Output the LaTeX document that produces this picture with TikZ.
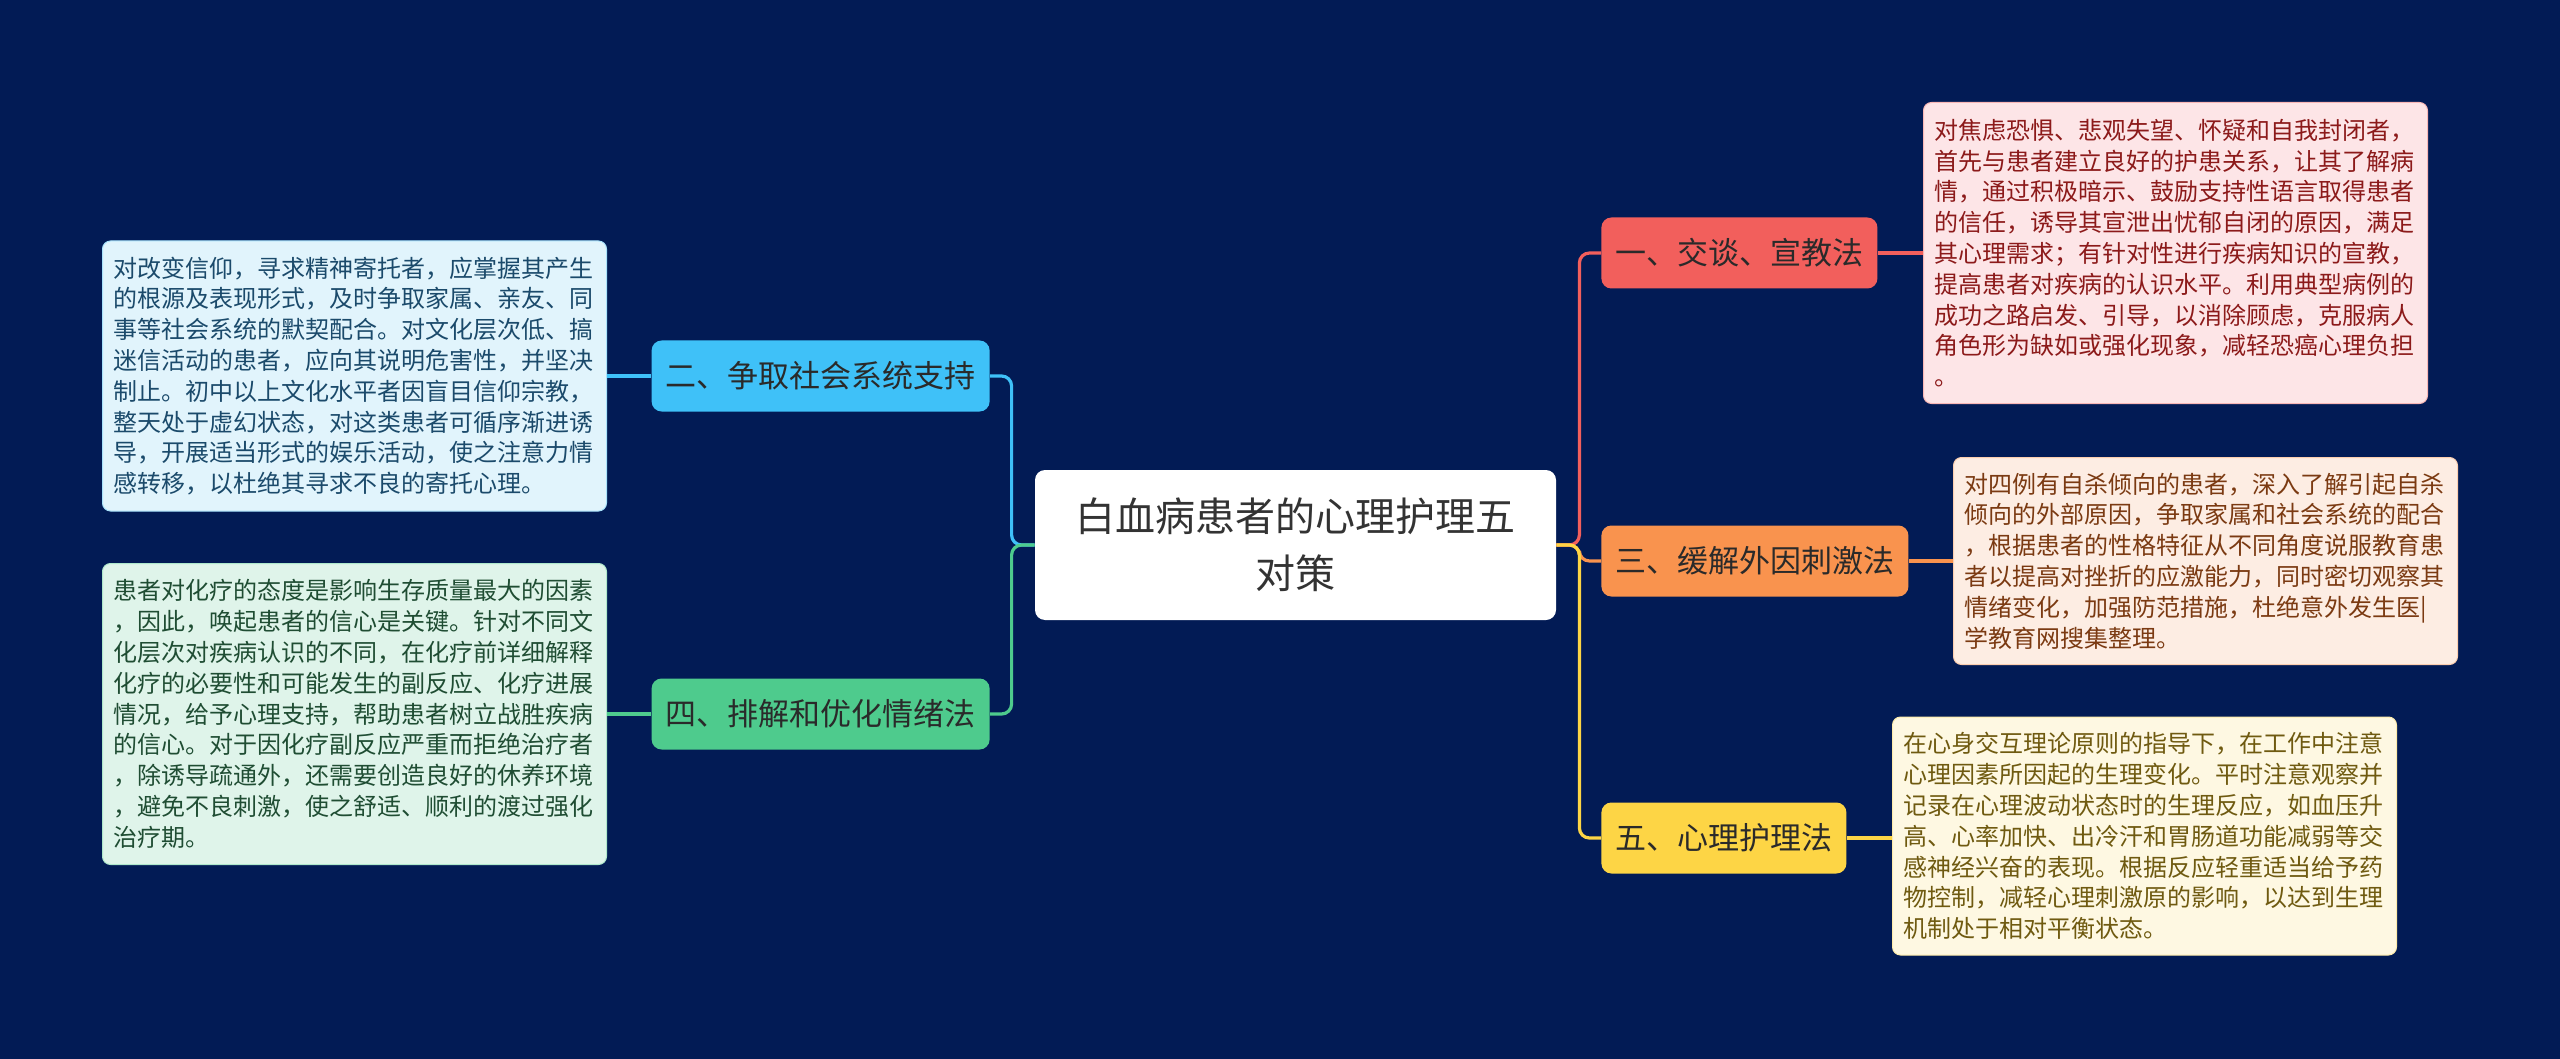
\documentclass[tikz,border=0pt]{standalone}
\usepackage{fontspec}
\setmainfont{Noto Sans CJK SC}
\definecolor{bgc}{HTML}{021B55}
\definecolor{c1}{HTML}{F25F5C}
\definecolor{c2}{HTML}{3FC1F8}
\definecolor{c3}{HTML}{F9934E}
\definecolor{c4}{HTML}{4ECB8D}
\definecolor{c5}{HTML}{FDD545}
\definecolor{f1}{HTML}{FDE5E7}
\definecolor{f2}{HTML}{E1F4FC}
\definecolor{f3}{HTML}{FDEDE3}
\definecolor{f4}{HTML}{DFF4EA}
\definecolor{f5}{HTML}{FEF8E2}
\definecolor{t1}{HTML}{8C1A1A}
\definecolor{t2}{HTML}{1B4A6B}
\definecolor{t3}{HTML}{7B3A12}
\definecolor{t4}{HTML}{1F4D33}
\definecolor{t5}{HTML}{6F5A10}
\definecolor{nodetext}{HTML}{2A2A2A}
\definecolor{titletext}{HTML}{333333}
\begin{document}
\begin{tikzpicture}[x=0.5pt,y=-0.5pt,
  branch/.style={rounded corners=5pt, inner xsep=7pt, inner ysep=0pt, minimum height=35.5pt,
    font=\fontsize{15.5pt}{18pt}\selectfont, text=nodetext},
  leaf/.style={rounded corners=4pt, text width=241pt, inner xsep=5.5pt, inner ysep=0pt,
    align=left, font=\fontsize{12pt}{15.4pt}\selectfont, line width=0.5pt},
  link/.style={line width=1.6pt, rounded corners=5pt},
  stub/.style={line width=1.6pt}
]
\useasboundingbox (0,0) rectangle (2560,1059);
\fill[bgc] (0,0) rectangle (2560,1059);

% root
\node[fill=white, rounded corners=5pt, minimum width=260.5pt, minimum height=75pt,
  align=center, font=\fontsize{20pt}{28.5pt}\selectfont, text=titletext]
  (root) at (1295.5,545) {白血病患者的心理护理五\\对策};

% branch nodes
\node[branch, fill=c2, anchor=east] (b2) at (990,376) {二、争取社会系统支持};
\node[branch, fill=c4, anchor=east] (b4) at (990,714) {四、排解和优化情绪法};
\node[branch, fill=c1, anchor=west] (b1) at (1601,253) {一、交谈、宣教法};
\node[branch, fill=c3, anchor=west] (b3) at (1601,561) {三、缓解外因刺激法};
\node[branch, fill=c5, anchor=west] (b5) at (1601,838) {五、心理护理法};

% leaves
\node[leaf, fill=f2, draw=c2!45, text=t2, anchor=east, minimum height=135pt] (l2) at (607,376) {对改变信仰，寻求精神寄托者，应掌握其产生\\的根源及表现形式，及时争取家属、亲友、同\\事等社会系统的默契配合。对文化层次低、搞\\迷信活动的患者，应向其说明危害性，并坚决\\制止。初中以上文化水平者因盲目信仰宗教，\\整天处于虚幻状态，对这类患者可循序渐进诱\\导，开展适当形式的娱乐活动，使之注意力情\\感转移，以杜绝其寻求不良的寄托心理。};
\node[leaf, fill=f4, draw=c4!45, text=t4, anchor=east, minimum height=150.5pt] (l4) at (607,714) {患者对化疗的态度是影响生存质量最大的因素\\，因此，唤起患者的信心是关键。针对不同文\\化层次对疾病认识的不同，在化疗前详细解释\\化疗的必要性和可能发生的副反应、化疗进展\\情况，给予心理支持，帮助患者树立战胜疾病\\的信心。对于因化疗副反应严重而拒绝治疗者\\，除诱导疏通外，还需要创造良好的休养环境\\，避免不良刺激，使之舒适、顺利的渡过强化\\治疗期。};
\node[leaf, fill=f1, draw=c1!45, text=t1, anchor=west, minimum height=150.5pt] (l1) at (1923,253) {对焦虑恐惧、悲观失望、怀疑和自我封闭者，\\首先与患者建立良好的护患关系，让其了解病\\情，通过积极暗示、鼓励支持性语言取得患者\\的信任，诱导其宣泄出忧郁自闭的原因，满足\\其心理需求；有针对性进行疾病知识的宣教，\\提高患者对疾病的认识水平。利用典型病例的\\成功之路启发、引导，以消除顾虑，克服病人\\角色形为缺如或强化现象，减轻恐癌心理负担\\。};
\node[leaf, fill=f3, draw=c3!45, text=t3, anchor=west, minimum height=103.5pt] (l3) at (1953,561) {对四例有自杀倾向的患者，深入了解引起自杀\\倾向的外部原因，争取家属和社会系统的配合\\，根据患者的性格特征从不同角度说服教育患\\者以提高对挫折的应激能力，同时密切观察其\\情绪变化，加强防范措施，杜绝意外发生医|\\学教育网搜集整理。};
\node[leaf, fill=f5, draw=c5!45, text=t5, anchor=west, minimum height=119pt] (l5) at (1892,836) {在心身交互理论原则的指导下，在工作中注意\\心理因素所因起的生理变化。平时注意观察并\\记录在心理波动状态时的生理反应，如血压升\\高、心率加快、出冷汗和胃肠道功能减弱等交\\感神经兴奋的表现。根据反应轻重适当给予药\\物控制，减轻心理刺激原的影响，以达到生理\\机制处于相对平衡状态。};

% connectors root -> branches
\draw[link, c2] (root.west) -- ++(-23,0) |- (b2.east);
\draw[link, c4] (root.west) -- ++(-23,0) |- (b4.east);
\draw[link, c1] (root.east) -- ++(23,0) |- (b1.west);
\draw[link, c3] (root.east) -- ++(23,0) |- (b3.west);
\draw[link, c5] (root.east) -- ++(23,0) |- (b5.west);

% connectors branches -> leaves
\draw[stub, c2] (b2.west) -- (l2.east |- b2.west);
\draw[stub, c4] (b4.west) -- (l4.east |- b4.west);
\draw[stub, c1] (b1.east) -- (l1.west |- b1.east);
\draw[stub, c3] (b3.east) -- (l3.west |- b3.east);
\draw[stub, c5] (b5.east) -- (l5.west |- b5.east);
\end{tikzpicture}
\end{document}
